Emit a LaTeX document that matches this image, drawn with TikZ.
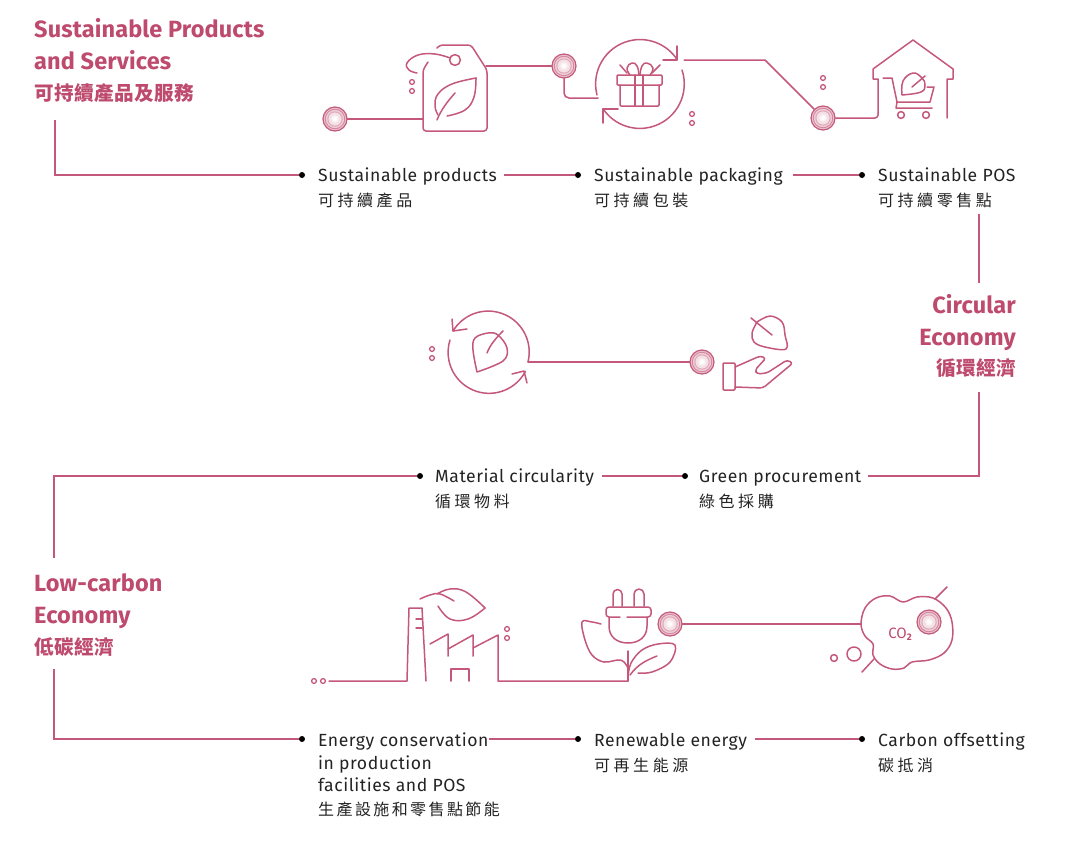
\documentclass[tikz,border=0pt]{standalone}
\usepackage{fontspec}
\setmainfont{Fira Sans}[LetterSpace=3]
\newfontfamily\titlefont{Fira Sans}[LetterSpace=0.6]
\newfontfamily\cjk{Noto Sans CJK TC}[LetterSpace=22]
\newfontfamily\cjktight{Noto Sans CJK TC}[LetterSpace=15]
\newfontfamily\cjkhead{Noto Sans CJK TC}[LetterSpace=2]
\definecolor{rose}{HTML}{BE4A6E}
\definecolor{wire}{HTML}{C4587A}
\definecolor{inktext}{HTML}{232323}
\tikzset{
  wireline/.style={draw=wire,line width=1.5pt,line join=round,line cap=round},
  railline/.style={draw=wire,line width=1.15pt,line join=miter},
  bullet/.style={circle,fill=black,inner sep=0pt,minimum size=6pt},
  item/.style={anchor=base west,inner sep=0pt,text=inktext,font=\fontsize{17.6}{22.5}\selectfont,align=left},
  itemcjk/.style={anchor=west,inner sep=0pt,text=inktext,font=\cjk\fontsize{16}{18}\selectfont},
  heading/.style={inner sep=0pt,text=rose,font=\titlefont\bfseries\fontsize{23.5}{32}\selectfont},
  headingcjk/.style={inner sep=0pt,text=rose,font=\cjkhead\bfseries\fontsize{19.6}{22}\selectfont},
  hub/.style={circle,draw=wire,line width=1.2pt,inner sep=0pt,minimum size=24pt,fill=wire!35,
    path picture={
      \def\cc{(path picture bounding box.center)}
      \fill[wire!75] \cc circle (10.2pt);
      \fill[wire!30] \cc circle (9.2pt);
      \fill[wire!55] \cc circle (7.6pt);
      \fill[wire!18] \cc circle (6.6pt);
      \fill[wire!8] \cc circle (3.8pt);
      \fill[white] \cc circle (2pt);
    }},
  spot/.style={draw=wire,line width=1.3pt},
}
\begin{document}
\begin{tikzpicture}[x=1pt,y=-1pt]
\useasboundingbox (0,0) rectangle (1089,846);

% ---- headings
\node[heading,anchor=base west] (h1a) at (34,37) {Sustainable Products};
\node[heading,anchor=base west] (h1b) at (34,69) {and Services};
\node[headingcjk,anchor=west] (h1c) at (34,93) {可持續產品及服務};
\node[heading,anchor=base east] (h2a) at (1016,313) {Circular};
\node[heading,anchor=base east] (h2b) at (1016,345) {Economy};
\node[headingcjk,anchor=east] (h2c) at (1016,368) {循環經濟};
\node[heading,anchor=base west] (h3a) at (34,591) {Low-carbon};
\node[heading,anchor=base west] (h3b) at (34,623) {Economy};
\node[headingcjk,anchor=west] (h3c) at (34,647) {低碳經濟};

% ---- first row of items
\node[bullet] (d1) at (302,175) {};
\node[bullet] (d2) at (578,175) {};
\node[bullet] (d3) at (862,175) {};
\node[item] (t1) at (318,181) {Sustainable products};
\node[itemcjk] (c1) at (318,200) {可持續產品};
\node[item] (t2) at (594,181) {Sustainable packaging};
\node[itemcjk] (c2) at (594,200) {可持續包裝};
\node[item] (t3) at (878,181) {Sustainable POS};
\node[itemcjk] (c3) at (878,200) {可持續零售點};

% ---- second row of items
\node[bullet] (d4) at (420,476) {};
\node[bullet] (d5) at (685,476) {};
\node[item] (t4) at (435,482) {Material circularity};
\node[itemcjk] (c4) at (435,501) {循環物料};
\node[item] (t5) at (699,482) {Green procurement};
\node[itemcjk] (c5) at (699,501) {綠色採購};

% ---- third row of items
\node[bullet] (d6) at (302,739) {};
\node[bullet] (d7) at (578,739) {};
\node[bullet] (d8) at (862,739) {};
\node[item,anchor=north west] (t6) at (318,733) {Energy conservation\\in production\\facilities and POS};
\node[itemcjk,font=\cjktight\fontsize{16}{18}\selectfont] (c6) at (318,809) {生產設施和零售點節能};
\node[item] (t7) at (594,746) {Renewable energy};
\node[itemcjk] (c7) at (594,765) {可再生能源};
\node[item] (t8) at (878,746) {Carbon offsetting};
\node[itemcjk] (c8) at (878,765) {碳抵消};

% ---- rails joining headings and items
\coordinate (r1) at (55,120);
\coordinate (r2) at (979,214);
\coordinate (r3) at (979,283);
\coordinate (r4) at (979,392);
\coordinate (r5) at (54,558);
\coordinate (r6) at (54,669);
\draw[railline] (r1) |- (d1);
\draw[railline] ([xshift=7pt]t1.east |- d2) -- (d2);
\draw[railline] ([xshift=10pt]t2.east |- d3) -- (d3);
\draw[railline] (r2) -- (r3);
\draw[railline] (r4) |- ([xshift=6pt]t5.east |- d5);
\draw[railline] ([xshift=8pt]t4.east |- d5) -- (d5);
\draw[railline] (d4) -| (r5);
\draw[railline] (r6) |- (d6);
\draw[railline] (t6.east |- d7) -- (d7);
\draw[railline] ([xshift=8pt]t7.east |- d8) -- (d8);

% ---- hubs
\node[hub] (n1) at (335,119) {};
\node[hub] (n2) at (564,66) {};
\node[hub] (n3) at (823,118) {};
\node[hub] (n4) at (702,362) {};
\node[hub] (n5) at (670,624) {};
\node[hub] (n6) at (929,622) {};

% ---- swing tag with leaf
\coordinate (tagL) at (423,119);
\coordinate (tagR) at (486,66);
\draw[wireline] (n1) -- (tagL);
\draw[wireline] (tagR) -- (n2);
\draw[wireline,rounded corners=3pt] (428,62) -- (423,70) -- (423,131) -- (487,131) -- (487,70) -- (471,45) -- (440,45) -- (437,48);
\draw[wireline] (455,60) circle (5.4pt);
\draw[wireline] plot[smooth,tension=0.7] coordinates {(450,58) (435,54) (418,55) (407,63) (409,70) (417,73)};
\draw[spot] (412,82) circle (2.4pt) (412,91) circle (2.4pt);
\draw[wireline] plot[smooth,tension=0.7] coordinates {(476,78) (452,84) (438,94) (435,106) (438,115)};
\draw[wireline] plot[smooth,tension=0.7] coordinates {(476,78) (474,97) (465,110) (447,116)};
\draw[wireline] (437,120) .. controls (441,110) and (447,102) .. (455,93);

% ---- gift inside two arrows
\coordinate (giftW) at (598,98);
\coordinate (giftE) at (684,60);
\draw[wireline,rounded corners=5pt] (n2) |- (giftW);
\draw[wireline] (597,95) arc[start angle=165.6,end angle=327,radius=44.4];
\draw[wireline] (677,46) -- (677,60) -- (663,60);
\draw[wireline] (682,70) arc[start angle=-18.4,end angle=146,radius=44.4];
\draw[wireline] (618,109) -- (603,109) -- (603,123);
\draw[wireline,rounded corners=1pt] (617,75) rectangle (662,85);
\draw[wireline,rounded corners=1pt] (620,85) -- (620,106) -- (659,106) -- (659,85);
\draw[wireline] (635,75) -- (635,106) (643,75) -- (643,106);
\draw[wireline] plot[smooth,tension=0.8] coordinates {(639,75) (637,66) (632,63) (627,68) (630,75)};
\draw[wireline] plot[smooth,tension=0.8] coordinates {(640,75) (642,66) (647,63) (653,68) (650,75)};
\draw[wireline] (620,65) -- (627,73) (660,65) -- (652,73);
\draw[spot] (692,114) circle (2.4pt) (692,123) circle (2.4pt);

% ---- shop with cart
\coordinate (shopW) at (878,113);
\draw[wireline] (giftE) -- (765,60) -- (n3);
\draw[wireline,rounded corners=3pt] (n3) -- (878,118) -- (shopW);
\draw[wireline] (shopW) -- (878,79) -- (873,79) -- (873,69) -- (913,40) -- (953,69) -- (953,79) -- (947,79) -- (947,118);
\draw[spot] (823,78) circle (2.4pt) (823,87) circle (2.4pt);
\draw[wireline] (883,78) -- (892,78) -- (897,102) -- (930,102) -- (934,87) -- (927,87);
\draw[wireline] (897,102) -- (896,108) -- (932,108);
\draw[wireline] (901,115) circle (3.4pt) (926,115) circle (3.4pt);
\draw[wireline] plot[smooth,tension=0.7] coordinates {(902,95) (903,81) (913,73) (922,78) (925,85) (921,92) (902,95)};
\draw[wireline] (925,76) -- (912,87);

% ---- material loop
\coordinate (loopE) at (528,362);
\draw[wireline] (loopE) -- (n4);
\draw[wireline] (528,362) arc[start angle=14,end angle=-149,radius=41];
\draw[wireline] (452,319) -- (453,331) -- (467,329);
\draw[wireline] (450,340) arc[start angle=197.5,end angle=27.8,radius=41];
\draw[wireline] (512,374) -- (524,371) -- (527,383);
\draw[spot] (432,349) circle (2.4pt) (432,358) circle (2.4pt);
\draw[wireline] plot[smooth,tension=0.6] coordinates {(477,372) (473,350) (475,338) (488,333) (498,335) (507,348) (503,361) (477,372)};
\draw[wireline] (503,331) .. controls (496,338) and (490,345) .. (487,353);

% ---- leaf over an open hand
\draw[wireline] (751,318) -- (772,335);
\draw[wireline] plot[smooth,tension=0.6] coordinates {(757,322) (770,316) (782,322) (785,335) (786,349) (765,347) (754,342) (752,333) (757,322)};
\draw[wireline,rounded corners=1pt] (723,363) rectangle (735,390);
\draw[wireline,rounded corners=3pt] (735,367) -- (760,356) -- (766,358) -- (755,370) -- (757,374) -- (767,373) -- (787,360) -- (793,363) -- (763,388) -- (735,387);

% ---- factory and leaf
\coordinate (wireW) at (329,681);
\coordinate (stem) at (628,681);
\draw[spot] (314,681) circle (2.4pt) (323,681) circle (2.4pt);
\draw[wireline] (wireW) -- (407,681) -- (409,608) -- (422,608) -- (426,681);
\draw[wireline] (416,619) -- (422,619) (416,628) -- (422,628);
\draw[wireline] (430,644) -- (448,634) -- (448,656);
\draw[wireline] (448,649) -- (473,635) -- (473,656);
\draw[wireline] (473,648) -- (498,635) -- (498,681) -- (stem);
\draw[wireline] (451,681) -- (451,669) -- (469,669) -- (469,681);
\draw[spot] (507,629) circle (2.4pt) (507,638) circle (2.4pt);
\draw[wireline] plot[smooth,tension=0.7] coordinates {(420,599) (430,595) (440,594) (454,601)};
\draw[wireline] plot[smooth,tension=0.7] coordinates {(437,594) (450,589) (466,592) (485,608)};
\draw[wireline] plot[smooth,tension=0.7] coordinates {(485,608) (468,619) (450,619) (438,606)};

% ---- plug growing from a stem
\draw[wireline] (613,606) -- (613,594) arc[start angle=180,end angle=360,radius=4.5] -- (622,606);
\draw[wireline] (634,606) -- (634,594) arc[start angle=180,end angle=360,radius=5] -- (644,606);
\draw[wireline,rounded corners=3pt] (620,617) -- (606,617) -- (606,607) -- (651,607) -- (651,617) -- (627,617);
\draw[wireline] (609,617) -- (609,626) .. controls (609,637) and (617,643) .. (628,643) .. controls (639,643) and (647,637) .. (647,626) -- (647,617);
\draw[wireline] (stem) -- (628,651);
\draw[wireline] plot[smooth,tension=0.6] coordinates {(601,624) (592,622) (582,622) (585,640) (592,655) (604,662) (620,660) (627,666) (628,674)};
\draw[wireline] plot[smooth,tension=0.6] coordinates {(628,677) (631,663) (642,650) (658,644) (675,645) (670,662) (652,672) (638,673)};
\draw[wireline] (657,656) .. controls (647,660) and (638,664) .. (630,675);

% ---- carbon cloud
\coordinate (cloudW) at (861,624);
\draw[wireline] (n5) -- (cloudW);
\draw[wireline] plot[smooth cycle,tension=0.6] coordinates {(861,624) (865,608) (876,598) (890,596) (903,602) (917,597) (933,598) (946,608) (952,622) (952,640) (944,653) (929,660) (912,662) (904,668) (892,669) (880,664) (873,655) (873,644) (865,636)};
\draw[wireline] (935,599) -- (947,587) (874,659) -- (862,672);
\draw[wireline] (854,654) circle (7pt) (834,658) circle (3.4pt);
\node[inner sep=0pt,text=rose,font=\titlefont\fontsize{15}{17}\selectfont] (co2) at (900,634) {CO\raisebox{-2.5pt}{\fontsize{9.5}{10}\selectfont\bfseries 2}};
\end{tikzpicture}
\end{document}
